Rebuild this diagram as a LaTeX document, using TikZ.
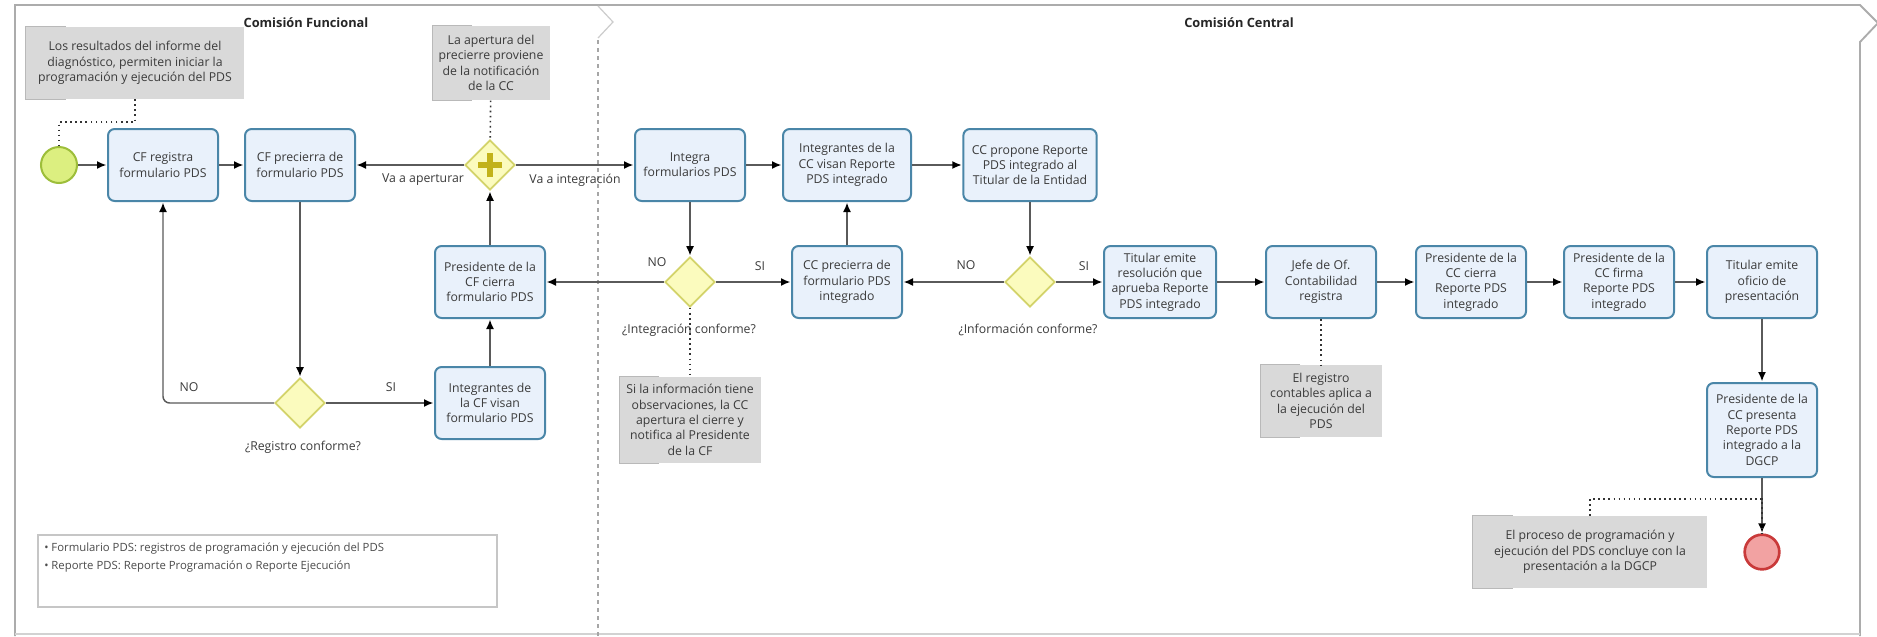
\documentclass[tikz,border=0pt]{standalone}
\usepackage{fontspec}
\setmainfont{Open Sans}
\usetikzlibrary{shapes.geometric,arrows.meta}

\definecolor{taskfill}{HTML}{E9F1FB}
\definecolor{taskline}{HTML}{4A86A8}
\definecolor{gwfill}{HTML}{FBFBBE}
\definecolor{gwline}{HTML}{D3D36A}
\definecolor{plusc}{HTML}{C2B21A}
\definecolor{startfill}{HTML}{DCEF80}
\definecolor{startline}{HTML}{9DBE3A}
\definecolor{endfill}{HTML}{F2A2A2}
\definecolor{endline}{HTML}{C93A3A}
\definecolor{annfill}{HTML}{D9D9D9}
\definecolor{flowc}{HTML}{5A5A5A}
\definecolor{txt}{HTML}{3B3B3B}

\begin{document}
\begin{tikzpicture}[x=0.75pt,y=-0.75pt,
    task/.style={rectangle, rounded corners=5pt, draw=taskline, fill=taskfill, line width=1.5pt,
        minimum width=82.5pt, minimum height=54pt, inner sep=2pt, align=center, text=txt,
        font=\fontsize{9.2}{11.5}\selectfont},
    gateway/.style={diamond, aspect=1, draw=gwline, fill=gwfill, line width=1.3pt,
        minimum width=37.5pt, minimum height=37.5pt, inner sep=0pt},
    annot/.style={rectangle, fill=annfill, inner sep=2pt, align=center, text=txt,
        minimum height=54pt, font=\fontsize{9.2}{11.5}\selectfont},
    bracket/.style={draw=gray!55, line width=0.6pt},
    startev/.style={circle, draw=startline, fill=startfill, line width=1.5pt, minimum size=27pt, inner sep=0pt},
    endev/.style={circle, draw=endline, fill=endfill, line width=2pt, minimum size=26pt, inner sep=0pt},
    flow/.style={draw=flowc, line width=1.1pt, -{Latex[length=7pt,width=6pt,color=black]}, shorten >=0.5pt},
    assoc/.style={draw=black!80, line width=1.2pt, dash pattern=on 1.2pt off 2.6pt},
    lbl/.style={text=txt, inner sep=1pt, font=\fontsize{9.2}{11.5}\selectfont},
    lanetitle/.style={text=black!85, font=\fontsize{9.6}{11.5}\selectfont\bfseries}]

    \fill[white] (0,0) rectangle (1877,636);
    \useasboundingbox (0,0) rectangle (1877,636);

    \draw[gray!65, line width=1.4pt] (15,636) -- (15,5) -- (1860,5) -- (1878,23) -- (1860,42) -- (1860,636);
    \draw[gray!35, line width=0.8pt] (15,634) -- (1860,634);
    \draw[gray!40, line width=0.9pt] (598,6) -- (613,22) -- (598,38);
    \draw[gray!70, line width=0.9pt, dashed] (598,40) -- (598,636);

    \node[lanetitle] (cf) at (306,23) {Comisión Funcional};
    \node[lanetitle] (cc) at (1239,23) {Comisión Central};

    \node[startev] (start) at (59,165) {};
    \node[task] (reg) at (163,165) {CF registra\\formulario PDS};
    \node[task] (pre) at (300,165) {CF precierra de\\formulario PDS};
    \node[gateway] (gwreg) at (300,403) {};
    \node[task] (intcf) at (490,403) {Integrantes de\\la CF visan\\formulario PDS};
    \node[task] (prescf) at (490,282) {Presidente de la\\CF cierra\\formulario PDS};
    \node[gateway] (gwpar) at (490,165) {};
    \draw[plusc, line width=4.5pt] ([xshift=-9pt]gwpar.center) -- ([xshift=9pt]gwpar.center);
    \draw[plusc, line width=4.5pt] ([yshift=-9pt]gwpar.center) -- ([yshift=9pt]gwpar.center);

    \node[task] (integra) at (690,165) {Integra\\formularios PDS};
    \node[task, minimum width=96pt] (intcc) at (847,165) {Integrantes de la\\CC visan Reporte\\PDS integrado};
    \node[task, minimum width=100pt] (propone) at (1030,165) {CC propone Reporte\\PDS integrado al\\Titular de la Entidad};
    \node[gateway] (gwint) at (690,282) {};
    \node[task] (precc) at (847,282) {CC precierra de\\formulario PDS\\integrado};
    \node[gateway] (gwinf) at (1030,282) {};
    \node[task, minimum width=84pt] (titres) at (1160,282) {Titular emite\\resolución que\\aprueba Reporte\\PDS integrado};
    \node[task] (jefe) at (1321,282) {Jefe de Of.\\Contabilidad\\registra};
    \node[task] (cierra) at (1471,282) {Presidente de la\\CC cierra\\Reporte PDS\\integrado};
    \node[task] (firma) at (1619,282) {Presidente de la\\CC firma\\Reporte PDS\\integrado};
    \node[task] (oficio) at (1762,282) {Titular emite\\oficio de\\presentación};
    \node[task, minimum height=70.5pt] (presenta) at (1762,430) {Presidente de la\\CC presenta\\Reporte PDS\\integrado a la\\DGCP};
    \node[endev] (endev) at (1762,552) {};

    \node[annot, minimum width=163.5pt] (ann1) at (135,63) {Los resultados del informe del\\diagnóstico, permiten iniciar la\\programación y ejecución del PDS};
    \node[annot, minimum width=88pt, minimum height=56pt] (ann2) at (491,63) {La apertura del\\precierre proviene\\de la notificación\\de la CC};
    \node[annot, minimum width=105.75pt, minimum height=65pt] (ann3) at (690,420) {Si la información tiene\\observaciones, la CC\\apertura el cierre y\\notifica al Presidente\\de la CF};
    \node[annot, minimum width=91pt] (ann4) at (1321,401) {El registro\\contables aplica a\\la ejecución del\\PDS};
    \node[annot, minimum width=175.5pt] (ann5) at (1590,552) {El proceso de programación y\\ejecución del PDS concluye con la\\presentación a la DGCP};
    \foreach \a in {ann1,ann2,ann3,ann4,ann5}
        \draw[bracket] ([xshift=30pt]\a.north west) -- (\a.north west) -- (\a.south west) -- ([xshift=30pt]\a.south west);

    \node[lbl] (lapert) at (423,180) {Va a aperturar};
    \node[lbl] (linteg) at (575,180) {Va a integración};
    \node[lbl] (lregno) at (189,387) {NO};
    \node[lbl] (lregsi) at (391,387) {SI};
    \node[lbl] (lreg) at (303,447) {¿Registro conforme?};
    \node[lbl] (lintno) at (657,262) {NO};
    \node[lbl] (lintsi) at (760,266) {SI};
    \node[lbl] (lint) at (689,330) {¿Integración conforme?};
    \node[lbl] (linfno) at (966,265) {NO};
    \node[lbl] (linfsi) at (1084,266) {SI};
    \node[lbl] (linf) at (1028,330) {¿Información conforme?};

    \draw[flow] (start) -- (reg);
    \draw[flow] (reg) -- (pre);
    \draw[flow] (pre) -- (gwreg);
    \draw[flow, rounded corners=5pt] (gwreg) -| (reg);
    \draw[flow] (gwreg) -- (intcf);
    \draw[flow] (intcf) -- (prescf);
    \draw[flow] (prescf) -- (gwpar);
    \draw[flow] (gwpar) -- (pre);
    \draw[flow] (gwpar) -- (integra);
    \draw[flow] (integra) -- (intcc);
    \draw[flow] (intcc) -- (propone);
    \draw[flow] (integra) -- (gwint);
    \draw[flow] (gwint) -- (prescf);
    \draw[flow] (gwint) -- (precc);
    \draw[flow] (precc) -- (intcc);
    \draw[flow] (propone) -- (gwinf);
    \draw[flow] (gwinf) -- (precc);
    \draw[flow] (gwinf) -- (titres);
    \draw[flow] (titres) -- (jefe);
    \draw[flow] (jefe) -- (cierra);
    \draw[flow] (cierra) -- (firma);
    \draw[flow] (firma) -- (oficio);
    \draw[flow] (oficio) -- (presenta);
    \draw[flow] (presenta) -- (endev);

    \draw[assoc] (ann1.south) -- ++(0,23) -| (start.north);
    \draw[assoc] (ann2) -- (gwpar);
    \draw[assoc] (gwint) -- (ann3);
    \draw[assoc] (jefe) -- (ann4);
    \draw[assoc] (ann5.north) -- ++(0,-17) -| (endev.north);

    \node[draw=gray!45, line width=0.8pt, minimum width=344.25pt, minimum height=54pt] (legbox) at (267.5,571) {};
    \node[anchor=north west, inner sep=0pt, align=left, text=black!70, font=\fontsize{8.5}{13.5}\selectfont] (legtxt) at (44,543)
        {• Formulario PDS: registros de programación y ejecución del PDS\\• Reporte PDS: Reporte Programación o Reporte Ejecución};

\end{tikzpicture}
\end{document}
